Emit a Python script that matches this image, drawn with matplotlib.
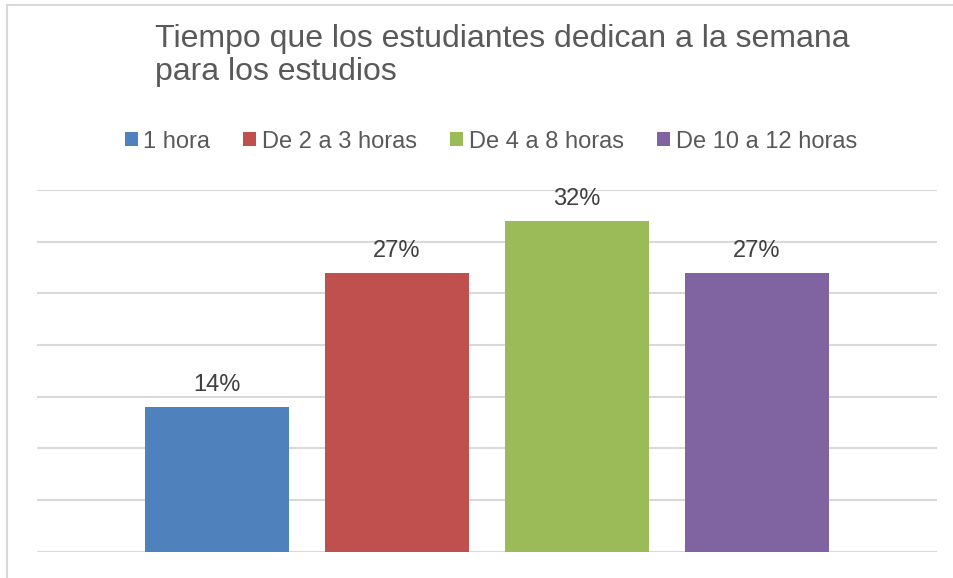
import matplotlib.pyplot as plt
from matplotlib.patches import Patch, Rectangle

categories = ['1 hora', 'De 2 a 3 horas', 'De 4 a 8 horas', 'De 10 a 12 horas']
values = [14, 27, 32, 27]
colors = ['#4F81BD', '#C0504D', '#9BBB59', '#8064A2']
title_lines = ['Tiempo que los estudiantes dedican a la semana', 'para los estudios']

plt.rcParams['font.family'] = ['Liberation Sans', 'DejaVu Sans']

W, H = 954, 578
fig = plt.figure(figsize=(W / 100, H / 100), dpi=100)

# chart border (only top/left visible in the reference crop)
fig.patches.append(Rectangle((7 / W, -0.1), 1.2, 1 - 5 / H + 0.1, transform=fig.transFigure,
                             fill=False, edgecolor='#d9d9d9', linewidth=1.5))

ax = fig.add_axes([37 / W, (H - 551.7) / H, 900 / W, 361.7 / H])
x = range(len(categories))
bars = ax.bar(x, values, width=0.8, color=colors, zorder=3)
for b, v in zip(bars, values):
    ax.annotate(f'{v}%', (b.get_x() + b.get_width() / 2, v), xytext=(0, 11.5),
                textcoords='offset points', ha='center', va='baseline',
                fontsize=17, color='#404040')

ax.set_xlim(-1, 4)
ax.set_ylim(0, 35)
ax.set_yticks(range(0, 36, 5))
ax.yaxis.grid(True, color='#d9d9d9', linewidth=1.5, zorder=0)
ax.tick_params(left=False, bottom=False, labelleft=False, labelbottom=False)
for s in ax.spines.values():
    s.set_visible(False)

for i, line in enumerate(title_lines):
    fig.text(155 / W, 1 - (47 + 33 * i) / H, line, ha='left', va='baseline',
             fontsize=23, color='#595959')

handles = [Patch(facecolor=c, edgecolor='none') for c in colors]
fig.legend(handles, categories, loc='center', bbox_to_anchor=(491 / W, 1 - 141.5 / H),
           ncol=4, frameon=False, fontsize=17, labelcolor='#595959',
           handlelength=0.55, handleheight=0.55, handletextpad=0.25,
           columnspacing=1.4, borderaxespad=0, borderpad=0)

fig.savefig('out.png', dpi=100, facecolor='white')
